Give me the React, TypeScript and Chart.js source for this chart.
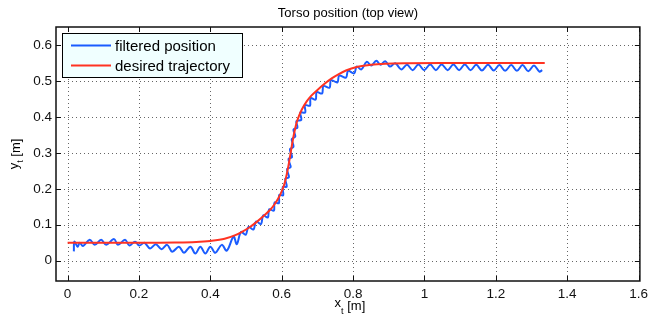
import React, { useEffect, useRef } from "react";
import { Chart, registerables } from "chart.js";

Chart.register(...registerables);

const chartTitle = "Torso position (top view)";
const xAxisName = "x";
const yAxisName = "y";
const axisSub = "t";
const axisUnit = " [m]";
const seriesLabels = ["filtered position", "desired trajectory"];
const seriesColors = ["#1a5cff", "#ff3322"];

const xTicks = [0, 0.2, 0.4, 0.6, 0.8, 1.0, 1.2, 1.4, 1.6];
const yTicks = [0, 0.1, 0.2, 0.3, 0.4, 0.5, 0.6];

const desiredX = [
  0.0, 0.2, 0.3, 0.36, 0.4, 0.44, 0.47, 0.49, 0.51, 0.53, 0.55, 0.567, 0.58,
  0.594, 0.602, 0.608, 0.614, 0.619, 0.625, 0.631, 0.636, 0.642, 0.648, 0.656,
  0.67, 0.683, 0.7, 0.72, 0.74, 0.76, 0.78, 0.81, 0.85, 0.89, 0.95, 1.05, 1.337,
];
const desiredY = [
  0.05, 0.05, 0.0505, 0.052, 0.055, 0.061, 0.071, 0.081, 0.093, 0.108, 0.125,
  0.141, 0.157, 0.18, 0.198, 0.215, 0.24, 0.265, 0.3, 0.335, 0.36, 0.385, 0.402,
  0.42, 0.443, 0.459, 0.475, 0.492, 0.507, 0.519, 0.529, 0.539, 0.545, 0.548,
  0.5495, 0.55, 0.55,
];

const filteredX = [
  0.0175, 0.019, 0.028, 0.034, 0.043, 0.062, 0.076, 0.094, 0.108, 0.13, 0.141,
  0.161, 0.173, 0.189, 0.201, 0.215, 0.231, 0.247, 0.263, 0.279, 0.293, 0.312,
  0.326, 0.344, 0.358, 0.372, 0.386, 0.4, 0.414, 0.432, 0.446, 0.465, 0.474,
  0.486, 0.499, 0.507, 0.521, 0.528, 0.542, 0.548, 0.561, 0.565, 0.578, 0.58,
  0.592, 0.593, 0.604, 0.603, 0.614, 0.61, 0.62, 0.615, 0.625, 0.619, 0.629,
  0.623, 0.633, 0.628, 0.638, 0.633, 0.644, 0.641, 0.655, 0.652, 0.666, 0.665,
  0.679, 0.681, 0.695, 0.698, 0.713, 0.717, 0.734, 0.738, 0.756, 0.761, 0.78,
  0.786, 0.803, 0.81, 0.823, 0.838, 0.851, 0.865, 0.877, 0.89, 0.903, 0.918,
  0.935, 0.951, 0.967, 0.983, 0.999, 1.016, 1.032, 1.048, 1.065, 1.081, 1.097,
  1.113, 1.129, 1.145, 1.161, 1.178, 1.194, 1.21, 1.226, 1.243, 1.259, 1.275,
  1.291, 1.307, 1.322, 1.33,
];
const filteredY = [
  0.026, 0.053, 0.039, 0.05, 0.041, 0.058, 0.044, 0.058, 0.044, 0.06, 0.044,
  0.058, 0.042, 0.053, 0.042, 0.05, 0.034, 0.046, 0.032, 0.044, 0.025, 0.039,
  0.022, 0.039, 0.02, 0.039, 0.02, 0.039, 0.022, 0.044, 0.028, 0.067, 0.046,
  0.08, 0.072, 0.094, 0.087, 0.109, 0.102, 0.126, 0.12, 0.143, 0.139, 0.162,
  0.16, 0.183, 0.182, 0.205, 0.206, 0.228, 0.232, 0.255, 0.26, 0.283, 0.288,
  0.31, 0.317, 0.338, 0.345, 0.365, 0.37, 0.388, 0.392, 0.412, 0.412, 0.433,
  0.431, 0.452, 0.448, 0.469, 0.465, 0.486, 0.481, 0.502, 0.496, 0.515, 0.509,
  0.528, 0.521, 0.54, 0.532, 0.553, 0.543, 0.556, 0.545, 0.555, 0.54, 0.549,
  0.532, 0.545, 0.53, 0.546, 0.53, 0.546, 0.53, 0.546, 0.53, 0.546, 0.53,
  0.546, 0.53, 0.545, 0.529, 0.545, 0.529, 0.544, 0.528, 0.544, 0.528, 0.544,
  0.527, 0.543, 0.526, 0.53,
];

const FONT = "'Liberation Sans', Arial, Helvetica, sans-serif";

const fmt = (v: number) => String(Number(v.toFixed(2)));

const matlabPlugin = {
  id: "matlabDecor",
  beforeDatasetsDraw(chart: any) {
    const { ctx, chartArea: a, scales } = chart;
    const xs = scales.x;
    const ys = scales.y;
    ctx.save();
    ctx.strokeStyle = "#666";
    ctx.lineWidth = 1;
    ctx.setLineDash([1, 3]);
    xTicks.forEach((v) => {
      const px = Math.round(xs.getPixelForValue(v)) + 0.5;
      ctx.beginPath();
      ctx.moveTo(px, a.top);
      ctx.lineTo(px, a.bottom);
      ctx.stroke();
    });
    yTicks.forEach((v) => {
      const py = Math.round(ys.getPixelForValue(v)) + 0.5;
      ctx.beginPath();
      ctx.moveTo(a.left, py);
      ctx.lineTo(a.right, py);
      ctx.stroke();
    });
    ctx.restore();
  },
  afterDatasetsDraw(chart: any) {
    const { ctx, chartArea: a, scales } = chart;
    const xs = scales.x;
    const ys = scales.y;
    ctx.save();
    // tick marks
    ctx.strokeStyle = "#111";
    ctx.lineWidth = 1;
    const tl = 5;
    xTicks.forEach((v) => {
      const px = Math.round(xs.getPixelForValue(v)) + 0.5;
      ctx.beginPath();
      ctx.moveTo(px, a.bottom);
      ctx.lineTo(px, a.bottom - tl);
      ctx.moveTo(px, a.top);
      ctx.lineTo(px, a.top + tl);
      ctx.stroke();
    });
    yTicks.forEach((v) => {
      const py = Math.round(ys.getPixelForValue(v)) + 0.5;
      ctx.beginPath();
      ctx.moveTo(a.left, py);
      ctx.lineTo(a.left + tl, py);
      ctx.moveTo(a.right, py);
      ctx.lineTo(a.right - tl, py);
      ctx.stroke();
    });
    // frame
    ctx.lineWidth = 1.5;
    ctx.strokeStyle = "#111";
    ctx.strokeRect(a.left, a.top, a.right - a.left, a.bottom - a.top);

    // legend
    const lx = 62.5;
    const ly = 33.5;
    const lw = 180;
    const lh = 44;
    ctx.fillStyle = "#f0ffff";
    ctx.fillRect(lx, ly, lw, lh);
    ctx.lineWidth = 1;
    ctx.strokeStyle = "#000";
    ctx.strokeRect(lx, ly, lw, lh);
    ctx.font = `15px ${FONT}`;
    ctx.textBaseline = "middle";
    ctx.textAlign = "left";
    seriesLabels.forEach((lab, i) => {
      const yy = 45.5 + i * 20;
      ctx.strokeStyle = seriesColors[i];
      ctx.lineWidth = 2;
      ctx.beginPath();
      ctx.moveTo(71, yy);
      ctx.lineTo(111, yy);
      ctx.stroke();
      ctx.fillStyle = "#000";
      ctx.fillText(lab, 115, yy + 1);
    });

    // title
    ctx.fillStyle = "#000";
    ctx.font = `13px ${FONT}`;
    ctx.textAlign = "center";
    ctx.textBaseline = "alphabetic";
    ctx.fillText(chartTitle, (a.left + a.right) / 2, 17);

    // axis label pieces
    ctx.font = `13px ${FONT}`;
    const w1 = ctx.measureText(xAxisName).width;
    const wy1 = ctx.measureText(yAxisName).width;
    const w3 = ctx.measureText(axisUnit).width;
    ctx.font = `9px ${FONT}`;
    const w2 = ctx.measureText(axisSub).width;

    // x axis label with subscript
    const total = w1 + w2 + w3;
    const xcx = (a.left + a.right) / 2 + 2;
    const sx = xcx - total / 2;
    const xb = 310;
    ctx.textAlign = "left";
    ctx.font = `13px ${FONT}`;
    ctx.fillText(xAxisName, sx, xb - 3);
    ctx.font = `9px ${FONT}`;
    ctx.fillText(axisSub, sx + w1, xb + 4);
    ctx.font = `13px ${FONT}`;
    ctx.fillText(axisUnit, sx + w1 + w2, xb);

    // y axis label rotated
    ctx.save();
    const ycy = (a.top + a.bottom) / 2;
    ctx.translate(20, ycy);
    ctx.rotate(-Math.PI / 2);
    const tot2 = wy1 + w2 + w3;
    const s2 = -tot2 / 2;
    ctx.font = `13px ${FONT}`;
    ctx.fillText(yAxisName, s2, -2);
    ctx.font = `9px ${FONT}`;
    ctx.fillText(axisSub, s2 + wy1, 3);
    ctx.font = `13px ${FONT}`;
    ctx.fillText(axisUnit, s2 + wy1 + w2, 0);
    ctx.restore();

    ctx.restore();
  },
};

export default function App() {
  const ref = useRef<HTMLCanvasElement | null>(null);
  useEffect(() => {
    if (!ref.current) return;
    const chart = new Chart(ref.current, {
      type: "line",
      data: {
        datasets: [
          {
            label: seriesLabels[1],
            data: desiredX.map((x, i) => ({ x, y: desiredY[i] })),
            borderColor: seriesColors[1],
            borderWidth: 2,
            pointRadius: 0,
            cubicInterpolationMode: "monotone",
            fill: false,
            order: 0,
          },
          {
            label: seriesLabels[0],
            data: filteredX.map((x, i) => ({ x, y: filteredY[i] })),
            borderColor: seriesColors[0],
            borderWidth: 2,
            pointRadius: 0,
            tension: 0.35,
            fill: false,
            order: 1,
          },
        ],
      },
      options: {
        responsive: false,
        animation: false,
        devicePixelRatio: 1,
        layout: { padding: { left: 0, right: 8, top: 27, bottom: 0 } },
        plugins: {
          legend: { display: false },
          title: { display: false },
          tooltip: { enabled: false },
        },
        scales: {
          x: {
            type: "linear",
            min: -0.0325,
            max: 1.6036,
            grid: { display: false, drawTicks: false },
            border: { display: false },
            afterBuildTicks: (s: any) => {
              s.ticks = xTicks.map((v) => ({ value: v }));
            },
            afterFit: (s: any) => {
              s.height = 39;
            },
            ticks: {
              padding: 5,
              color: "#111",
              font: { family: FONT, size: 13.5 },
              maxRotation: 0,
              autoSkip: false,
              callback: (v: any) => fmt(Number(v)),
            },
          },
          y: {
            type: "linear",
            min: -0.0565,
            max: 0.65,
            grid: { display: false, drawTicks: false },
            border: { display: false },
            afterBuildTicks: (s: any) => {
              s.ticks = yTicks.map((v) => ({ value: v }));
            },
            afterFit: (s: any) => {
              s.width = 56;
            },
            ticks: {
              padding: 4,
              color: "#111",
              font: { family: FONT, size: 13.5 },
              autoSkip: false,
              callback: (v: any) => fmt(Number(v)),
            },
          },
        },
      },
      plugins: [matlabPlugin],
    });
    return () => chart.destroy();
  }, []);
  return (
    <div
      style={{
        position: "fixed",
        left: 0,
        top: 0,
        width: 653,
        height: 320,
        background: "#fff",
      }}
    >
      <canvas ref={ref} width={653} height={320} style={{ display: "block" }} />
    </div>
  );
}
